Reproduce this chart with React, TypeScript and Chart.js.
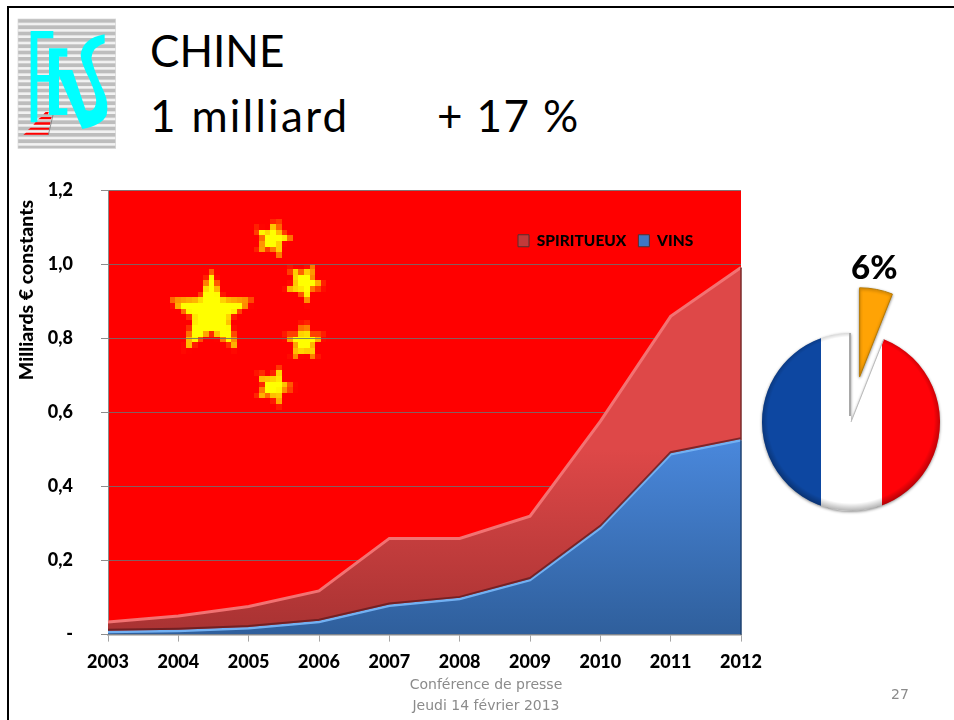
import React, { useEffect, useRef } from "react";
import { Chart, registerables } from "chart.js";

Chart.register(...registerables);

const YEARS = ["2003", "2004", "2005", "2006", "2007", "2008", "2009", "2010", "2011", "2012"];
const VINS = [0.007, 0.01, 0.017, 0.034, 0.078, 0.096, 0.147, 0.288, 0.487, 0.525];
const SPIRITUEUX = [0.027, 0.04, 0.059, 0.084, 0.182, 0.164, 0.173, 0.288, 0.373, 0.467];
const PIE_SHARE = [6, 94];
const LEGEND_COLOURS: Record<string, string> = { SPIRITUEUX: "#C23A3A", VINS: "#3F78C4" };

const FONT = "Lato";
const HEAVY = 900;
const BIG = Math.PI / 180;

// Flag stars, as a fraction of the plot area (decoration, not data).
const STARS = [
  { fx: 0.163, fy: 0.275, r: 44, rot: 0 },
  { fx: 0.26, fy: 0.108, r: 21, rot: 12 },
  { fx: 0.31, fy: 0.207, r: 21, rot: 28 },
  { fx: 0.31, fy: 0.34, r: 21, rot: 0 },
  { fx: 0.262, fy: 0.44, r: 21, rot: 20 },
];

function starPath(c: CanvasRenderingContext2D, x: number, y: number, r: number, rot: number) {
  c.beginPath();
  for (let i = 0; i < 10; i++) {
    const rad = i % 2 === 0 ? r : r * 0.42;
    const a = (-90 + rot + i * 36) * BIG;
    const px = x + rad * Math.cos(a);
    const py = y + rad * Math.sin(a);
    if (i === 0) c.moveTo(px, py);
    else c.lineTo(px, py);
  }
  c.closePath();
}

const flagBackground = {
  id: "flagBackground",
  beforeDraw(chart: any) {
    const { ctx, chartArea: a } = chart;
    ctx.save();
    ctx.fillStyle = "#FF0000";
    ctx.fillRect(a.left, a.top, a.width, a.height);
    const px = 5.6;
    const off = document.createElement("canvas");
    off.width = Math.round(a.width / px);
    off.height = Math.round(a.height / px);
    const o = off.getContext("2d")!;
    o.fillStyle = "#FFFF00";
    for (const s of STARS) {
      starPath(o, (s.fx * a.width) / px, (s.fy * a.height) / px, s.r / px, s.rot);
      o.fill();
    }
    ctx.imageSmoothingEnabled = false;
    ctx.drawImage(off, a.left, a.top, a.width, a.height);
    ctx.restore();
    // legend sits inside the plot
    const lg = chart.legend;
    if (lg) {
      lg.left = 506;
      lg.right = 730;
      lg.top = 221;
      lg.bottom = 264;
    }
  },
};

const bevel = {
  id: "bevel",
  afterDatasetsDraw(chart: any) {
    const { ctx } = chart;
    const lower = chart.getDatasetMeta(0).data;
    const upper = chart.getDatasetMeta(1).data;
    ctx.save();
    ctx.strokeStyle = "rgba(95,25,30,0.75)";
    ctx.lineWidth = 2;
    ctx.beginPath();
    lower.forEach((p: any, i: number) => {
      if (i === 0) ctx.moveTo(p.x, p.y - 2.2);
      else ctx.lineTo(p.x, p.y - 2.2);
    });
    ctx.stroke();
    const lastU = upper[upper.length - 1];
    const lastL = lower[lower.length - 1];
    const base = chart.scales.y.getPixelForValue(0);
    ctx.lineWidth = 1.5;
    ctx.strokeStyle = "#7A2B2B";
    ctx.beginPath();
    ctx.moveTo(lastU.x, lastU.y);
    ctx.lineTo(lastU.x, lastL.y);
    ctx.stroke();
    ctx.strokeStyle = "#1F4270";
    ctx.beginPath();
    ctx.moveTo(lastL.x, lastL.y);
    ctx.lineTo(lastL.x, base);
    ctx.stroke();
    ctx.restore();
  },
};

function verticalGradient(chart: any, top: string, bottom: string, from: number) {
  const y = chart.scales?.y;
  if (!y || !chart.chartArea) return top;
  const y0 = y.getPixelForValue(from);
  const y1 = y.getPixelForValue(0);
  if (!Number.isFinite(y0) || !Number.isFinite(y1)) return top;
  const g = chart.ctx.createLinearGradient(0, y0, 0, y1);
  g.addColorStop(0, top);
  g.addColorStop(1, bottom);
  return g;
}

function flagGradient(chart: any, radius: number) {
  const a = chart.chartArea;
  if (!a) return "#ffffff";
  const cx = (a.left + a.right) / 2;
  const g = chart.ctx.createLinearGradient(cx - radius, 0, cx + radius, 0);
  g.addColorStop(0, "#0D47A1");
  g.addColorStop(0.333, "#0D47A1");
  g.addColorStop(0.333, "#FFFFFF");
  g.addColorStop(0.672, "#FFFFFF");
  g.addColorStop(0.672, "#FF0208");
  g.addColorStop(1, "#FF0208");
  return g;
}

const pieShade = {
  id: "pieShade",
  beforeDatasetsDraw(chart: any) {
    const { ctx } = chart;
    // Chart.js grows an exploded slice unless its circumference reads as a quarter turn.
    const wedge = chart.getDatasetMeta(0).data[0];
    wedge.circumference = Math.PI / 2;
    ctx.save();
    ctx.shadowColor = "rgba(0,0,0,0.45)";
    ctx.shadowBlur = 3;
    ctx.shadowOffsetY = 1;
  },
  afterDatasetsDraw(chart: any) {
    const { ctx } = chart;
    ctx.restore();
    const big = chart.getDatasetMeta(0).data[1];
    const { x, y, startAngle, endAngle, outerRadius: r } = big;
    ctx.save();
    // darkened rim of the large slice
    ctx.beginPath();
    ctx.moveTo(x, y);
    ctx.arc(x, y, r, startAngle, endAngle);
    ctx.closePath();
    ctx.clip();
    const g = ctx.createRadialGradient(x, y - 2, r - 6, x, y - 2, r + 2);
    g.addColorStop(0, "rgba(0,0,0,0)");
    g.addColorStop(1, "rgba(0,0,0,0.3)");
    ctx.fillStyle = g;
    ctx.fillRect(x - r - 2, y - r - 2, 2 * r + 4, 2 * r + 4);
    ctx.restore();
    // cut edges of the wedge
    ctx.save();
    ctx.strokeStyle = "#A8A8A8";
    ctx.lineWidth = 2;
    ctx.beginPath();
    ctx.moveTo(x - 1, y - 6);
    ctx.lineTo(x + r * Math.cos(endAngle) - 1, y + r * Math.sin(endAngle));
    ctx.stroke();
    ctx.strokeStyle = "#BBBBBB";
    ctx.lineWidth = 1;
    ctx.beginPath();
    ctx.moveTo(x, y);
    ctx.lineTo(x + r * Math.cos(startAngle), y + r * Math.sin(startAngle));
    ctx.stroke();
    ctx.restore();
  },
};

const abs = (left: number, top: number, extra: React.CSSProperties = {}): React.CSSProperties => ({
  position: "absolute",
  left,
  top,
  whiteSpace: "nowrap",
  margin: 0,
  ...extra,
});

export default function App() {
  const mainRef = useRef<HTMLCanvasElement>(null);
  const pieRef = useRef<HTMLCanvasElement>(null);

  useEffect(() => {
    const tickFont = { family: FONT, size: 18, weight: HEAVY };
    const area = new Chart(mainRef.current!, {
      type: "line",
      data: {
        labels: YEARS,
        datasets: [
          {
            label: "VINS",
            data: VINS,
            fill: "origin",
            tension: 0,
            pointRadius: 0,
            borderWidth: 2.5,
            borderColor: "#72B0F2",
            backgroundColor: (c: any) => verticalGradient(c.chart, "#4A88DC", "#2F5F9C", 0.53),
          },
          {
            label: "SPIRITUEUX",
            data: SPIRITUEUX,
            fill: "-1",
            tension: 0,
            pointRadius: 0,
            borderWidth: 3,
            borderColor: "#F27272",
            backgroundColor: (c: any) => verticalGradient(c.chart, "#DE4848", "#A83232", 0.5),
          },
        ],
      },
      options: {
        responsive: false,
        devicePixelRatio: 1,
        animation: false,
        layout: { padding: { left: 15, top: 153, right: 213, bottom: 35.4 } },
        plugins: {
          tooltip: { enabled: false },
          legend: {
            display: true,
            position: "top",
            align: "start",
            labels: {
              boxWidth: 11,
              boxHeight: 12,
              padding: 12,
              color: "#000000",
              font: { family: FONT, size: 15.5, weight: HEAVY },
              sort: (a: any, b: any) => b.datasetIndex - a.datasetIndex,
              generateLabels: (chart: any) =>
                Chart.defaults.plugins.legend.labels.generateLabels(chart).map((l: any) => ({
                  ...l,
                  fillStyle: LEGEND_COLOURS[l.text],
                  strokeStyle: "#55302F",
                  lineWidth: 1,
                })),
            },
          },
        },
        scales: {
          x: {
            offset: false,
            stacked: true,
            afterFit: (s: any) => {
              s.height = 50;
            },
            border: { color: "#8C8C8C", width: 1.5 },
            grid: { drawOnChartArea: false, drawTicks: true, tickLength: 7, tickColor: "#A6A6A6", tickWidth: 1 },
            ticks: { color: "#000000", font: tickFont, padding: 10, maxRotation: 0, autoSkip: false },
          },
          y: {
            stacked: true,
            min: 0,
            max: 1.2,
            afterFit: (s: any) => {
              s.width = 93;
            },
            border: { color: "#8C8C8C", width: 1 },
            grid: { color: "rgba(112,112,112,0.85)", lineWidth: 1, tickLength: 7, tickColor: "#8C8C8C" },
            title: {
              display: true,
              text: "Milliards € constants\u00A0\u00A0",
              align: "end",
              color: "#000000",
              padding: 0,
              font: { family: FONT, size: 19.5, weight: HEAVY },
            },
            ticks: {
              stepSize: 0.2,
              padding: 28,
              color: "#000000",
              font: tickFont,
              callback: (v: any) => (Number(v) === 0 ? "-" : Number(v).toFixed(1).replace(".", ",")),
            },
          },
        },
      },
      plugins: [flagBackground, bevel],
    } as any);

    const PIE_R = 89;
    const pie = new Chart(pieRef.current!, {
      type: "pie",
      data: {
        labels: ["Part", "Reste"],
        datasets: [
          {
            data: PIE_SHARE,
            offset: [184, 0],
            borderWidth: [1, 0],
            borderColor: ["#B87A00", "#FFFFFF"],
            backgroundColor: (c: any) => (c.dataIndex === 0 ? "#FFA305" : flagGradient(c.chart, PIE_R)),
          },
        ],
      },
      options: {
        responsive: false,
        devicePixelRatio: 1,
        animation: false,
        radius: PIE_R,
        rotation: 0,
        layout: { padding: 0 },
        plugins: { legend: { display: false }, tooltip: { enabled: false } },
      },
      plugins: [pieShade],
    } as any);

    return () => {
      area.destroy();
      pie.destroy();
    };
  }, []);

  const titleStyle = { fontFamily: FONT, fontSize: 44, lineHeight: "50px", color: "#000" };
  const footStyle: React.CSSProperties = {
    fontFamily: "DejaVu Sans",
    fontSize: 14,
    lineHeight: "22px",
    color: "#8B8B8B",
    textAlign: "center",
  };

  return (
    <div style={{ position: "absolute", left: 0, top: 0, width: 954, height: 720, overflow: "hidden", background: "#fff" }}>
      <div style={{ position: "absolute", left: 7, top: 6, width: 2, height: 714, background: "#000" }} />
      <div style={{ position: "absolute", left: 7, top: 6, width: 947, height: 2, background: "#000" }} />

      <svg style={{ position: "absolute", left: 14, top: 15 }} width={106} height={136} viewBox="0 0 318 408">
        <defs>
          <pattern id="st" width="19" height="19" patternUnits="userSpaceOnUse" x="12" y="12">
            <rect width="19" height="12" fill="#BDBDBD" />
            <rect y="12" width="19" height="7" fill="#F2F2F2" />
          </pattern>
        </defs>
        <rect x="12" y="12" width="293" height="388" fill="url(#st)" stroke="#D4D4D4" strokeWidth="2" />
        <path
          fill="#00FFFF"
          d="M50 48H118V70H70V180H105V100H160V125H135V165H175L215 285Q240 295 246 265Q250 245 225 190Q200 140 200 120Q205 70 272 58V85Q235 95 232 130Q240 170 270 230Q285 265 278 300Q265 330 205 342L135 182V280H160V300H105V200H70V322H50Z"
        />
        <path
          fill="#FF0000"
          d="M95 291H104L102 298H88ZM82 306H113L111 313H72ZM65 322H109L108 329H58ZM50 338H106L105 344H42ZM36 353H104L103 359H28Z"
        />
        <path stroke="#666" strokeWidth="2" d="M117 300L103 360" fill="none" />
      </svg>

      <div style={abs(150, 25, titleStyle)}>CHINE</div>
      <div style={abs(150, 90, { ...titleStyle, letterSpacing: 2.3 })}>1 milliard</div>
      <div style={abs(437, 90, { ...titleStyle, letterSpacing: 1.4 })}>+ 17 %</div>

      <canvas ref={mainRef} width={954} height={720} style={{ position: "absolute", left: 0, top: 0 }} />
      <canvas ref={pieRef} width={206} height={284} style={{ position: "absolute", left: 748, top: 280 }} />

      <div style={abs(851, 247, { fontFamily: FONT, fontSize: 33, fontWeight: 900, lineHeight: "38px", color: "#000" })}>6%</div>
      <div style={abs(386, 673, { ...footStyle, width: 200 })}>Conférence de presse</div>
      <div style={abs(386, 694, { ...footStyle, width: 200 })}>Jeudi 14 février 2013</div>
      <div style={abs(891, 683, { fontFamily: "DejaVu Sans", fontSize: 14, lineHeight: "22px", color: "#8B8B8B" })}>27</div>
    </div>
  );
}
